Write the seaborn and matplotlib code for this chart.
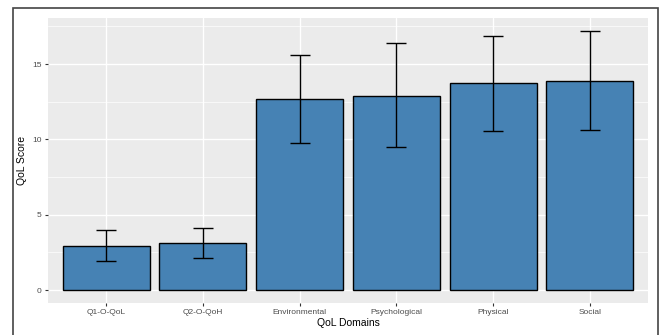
import numpy as np
import pandas as pd
import matplotlib
matplotlib.use("Agg")
import matplotlib.pyplot as plt
import seaborn as sns
from matplotlib.patches import Rectangle
from matplotlib.ticker import MultipleLocator

# values
domains = ["Q1-O-QoL", "Q2-O-QoH", "Environmental", "Psychological", "Physical", "Social"]
scores = [2.95, 3.1, 12.67, 12.91, 13.73, 13.91]
err_low = [1.94, 2.1, 9.78, 9.47, 10.58, 10.62]
err_high = [3.97, 4.1, 15.58, 16.38, 16.89, 17.2]

df = pd.DataFrame({"domain": domains, "score": scores,
                   "low": err_low, "high": err_high})

sns.set_theme(style="darkgrid")
plt.rcParams["font.family"] = ["Liberation Sans", "DejaVu Sans"]

fig = plt.figure(figsize=(6.61, 3.35), dpi=100)
ax = fig.add_axes([48 / 661, 1 - 303 / 335, 600 / 661, 285 / 335])
ax.set_facecolor("#EBEBEB")

sns.barplot(data=df, x="domain", y="score", color="#4682B4", saturation=1,
            width=0.9, edgecolor="black", linewidth=1.0, errorbar=None, ax=ax,
            zorder=3)

x = np.arange(len(df))
ax.errorbar(x, df["score"],
            yerr=[df["score"] - df["low"], df["high"] - df["score"]],
            fmt="none", ecolor="black", elinewidth=1.0, capsize=7.2,
            capthick=1.0, zorder=4)

ax.set_xlim(-0.6, 5.6)
ax.set_ylim(-0.86, 18.06)
ax.yaxis.set_major_locator(MultipleLocator(5))
ax.yaxis.set_minor_locator(MultipleLocator(2.5))
ax.grid(which="major", color="white", linewidth=1.0, zorder=0)
ax.grid(which="minor", axis="y", color="white", linewidth=0.5, zorder=0)
ax.set_axisbelow(True)
for s in ax.spines.values():
    s.set_visible(False)

ax.tick_params(axis="both", which="major", length=2.5, width=0.8,
               color="#333333", labelcolor="#4D4D4D", labelsize=6, pad=2,
               bottom=True, left=True)
ax.tick_params(axis="y", which="minor", length=0)

ax.set_xlabel("QoL Domains", fontsize=7.5, color="black", labelpad=1)
ax.set_ylabel("QoL Score", fontsize=7.5, color="black", labelpad=4)

# outer frame around the figure
fig.patches.append(Rectangle((13 / 661, -0.05), 645 / 661, 1 - 8 / 335 + 0.05,
                             transform=fig.transFigure, fill=False,
                             edgecolor="#444444", linewidth=1.2))

fig.savefig("out.png", dpi=100, facecolor="white")
